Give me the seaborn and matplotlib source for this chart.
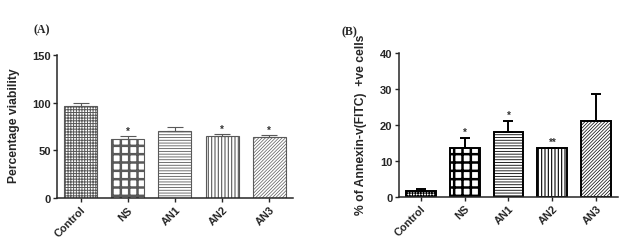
import numpy as np
import matplotlib
matplotlib.use('Agg')
import matplotlib.pyplot as plt
import seaborn as sns

# 데이터
groups = ['Control', 'NS', 'AN1', 'AN2', 'AN3']
viability_mean = [96.0, 62.3, 70.8, 65.4, 64.5]
viability_err = [3.6, 2.6, 4.0, 1.7, 2.0]
viability_sig = ['', '*', '', '*', '*']

annexin_mean = [1.6, 13.7, 18.1, 13.5, 21.0]
annexin_err = [0.7, 2.7, 3.1, 0.2, 7.6]
annexin_sig = ['', '*', '*', '**', '']

hatches = ['++++++', '++', '------', '|||||', '//////////']
hatch_lw = [0.7, 1.8, 0.6, 0.8, 0.5]

sns.set_style('ticks')
plt.rcParams['font.family'] = ['Liberation Sans', 'DejaVu Sans']
plt.rcParams['font.weight'] = 'bold'

fig = plt.figure(figsize=(6.27, 2.51), dpi=100)
axA = fig.add_axes([0.091, 0.207, 0.376, 0.570])
axB = fig.add_axes([0.636, 0.212, 0.350, 0.573])


def draw_panel(ax, means, errs, sig, ymax, yticks, ylabel, edge, lw, width, capsize, star_off):
    sns.barplot(x=groups, y=means, ax=ax, color='white', edgecolor=edge,
                linewidth=lw, width=width, errorbar=None, saturation=1)
    for p, h, hl in zip(ax.patches, hatches, hatch_lw):
        p.set_hatch(h)
        if hasattr(p, 'set_hatch_linewidth'):
            p.set_hatch_linewidth(hl)
    ax.errorbar(x=np.arange(len(groups)), y=means,
                yerr=[np.zeros(len(groups)), errs], fmt='none',
                ecolor=edge, elinewidth=lw, capsize=capsize, capthick=lw, zorder=3)
    for i, s in enumerate(sig):
        if s:
            ax.annotate(s, (i, means[i] + errs[i]), xytext=(0, star_off),
                        textcoords='offset points', ha='center', va='center',
                        fontsize=7, color='0.2')
    ax.set_ylim(0, ymax)
    ax.set_xlim(-0.5, 4.5)
    ax.set_yticks(yticks)
    ax.set_ylabel(ylabel, fontsize=8.7, fontweight='bold')
    ax.set_xlabel('')
    ax.tick_params(axis='both', direction='out', length=3, width=1, labelsize=8, pad=1.5)
    for lab in ax.get_xticklabels():
        lab.set_rotation(45)
        lab.set_ha('right')
        lab.set_va('top')
        lab.set_rotation_mode('anchor')
        lab.set_fontweight('bold')
        lab.set_fontsize(7.8)
    for lab in ax.get_yticklabels():
        lab.set_fontweight('bold')
    sns.despine(ax=ax)
    for sp in ['left', 'bottom']:
        ax.spines[sp].set_linewidth(1.1)


draw_panel(axA, viability_mean, viability_err, viability_sig, 150, [0, 50, 100, 150],
           'Percentage viability', '0.35', 0.8, 0.70, 5.7, 3.5)
draw_panel(axB, annexin_mean, annexin_err, annexin_sig, 40, [0, 10, 20, 30, 40],
           '% of Annexin-v(FITC)  +ve cells', 'black', 1.4, 0.68, 3.6, 4)

axA.yaxis.set_label_coords(-0.157, 0.51)
axB.yaxis.set_label_coords(-0.146, 0.51)

fig.text(0.067, 0.88, '(A)', family='Liberation Serif', fontweight='bold', fontsize=8.5,
         ha='center', va='center')
fig.text(0.558, 0.872, '(B)', family='Liberation Serif', fontweight='bold', fontsize=8.5,
         ha='center', va='center')

fig.savefig('out.png', dpi=100)
